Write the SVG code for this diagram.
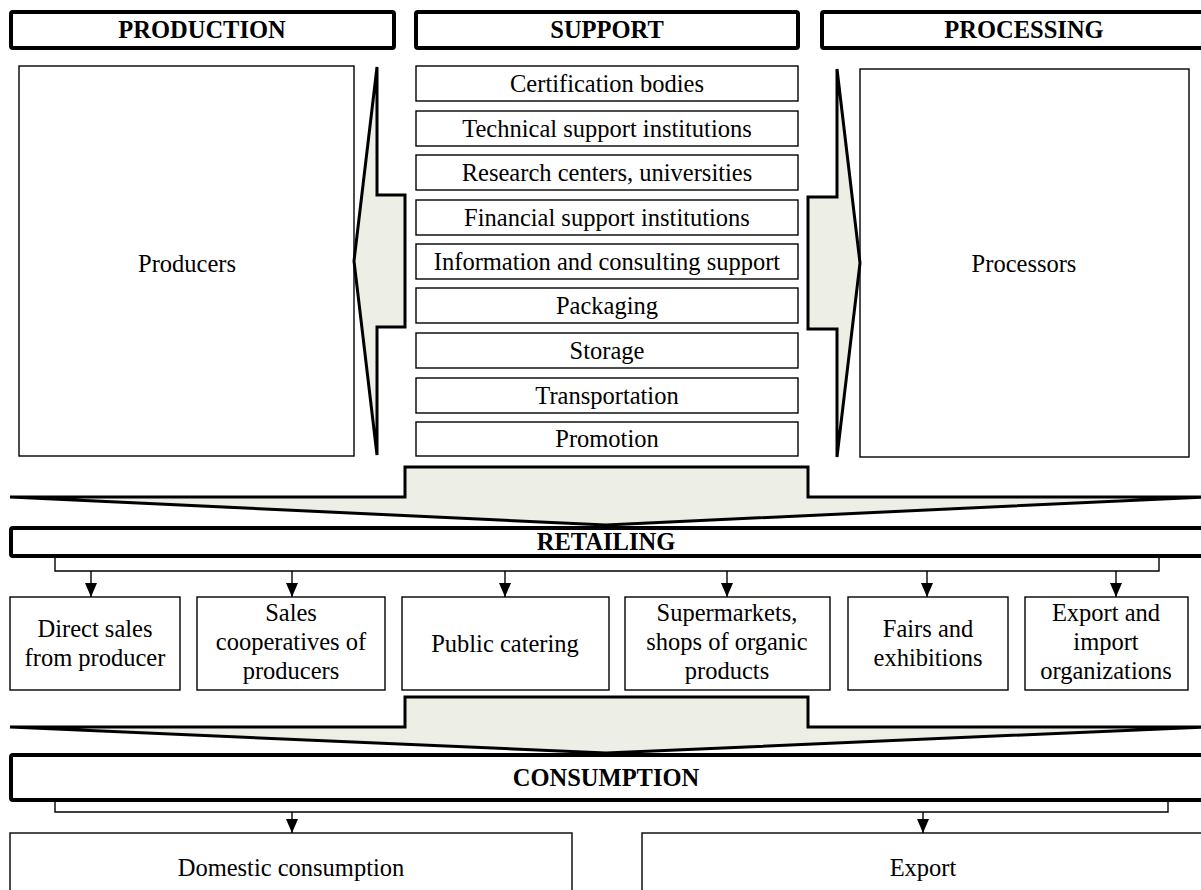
<svg xmlns="http://www.w3.org/2000/svg" width="1201" height="890" viewBox="0 0 1201 890">
<style>
text{font-family:"Liberation Serif","Times New Roman",serif;font-size:24.5px;fill:#000;text-anchor:middle}
.h{font-weight:bold}
.hb{fill:#fff;stroke:#000;stroke-width:4}
.b{fill:#fff;stroke:#000;stroke-width:1.4}
.ar{fill:#EDEEE6;stroke:#000;stroke-width:3;stroke-linejoin:miter}
.c{fill:none;stroke:#000;stroke-width:1.4}
</style>
<defs>
<marker id="ah" markerWidth="14" markerHeight="12" refX="14" refY="6" orient="auto" markerUnits="userSpaceOnUse" viewBox="0 0 14 12">
<path d="M0,0 L14,6 L0,12 Z" fill="#000"/>
</marker>
</defs>
<g id="production"><rect class="hb" x="11" y="12" width="383" height="36" rx="2"/><text class="h" x="202" y="38">PRODUCTION</text></g>
<g id="support"><rect class="hb" x="416" y="12" width="382" height="36" rx="2"/><text class="h" x="607" y="38">SUPPORT</text></g>
<g id="processing"><rect class="hb" x="822" y="12" width="386" height="36" rx="2"/><text class="h" x="1024" y="38">PROCESSING</text></g>
<g id="producers"><rect class="b" x="19" y="66" width="335" height="390"/><text x="187" y="272">Producers</text></g>
<g id="processors"><rect class="b" x="860" y="69" width="329" height="388"/><text x="1024" y="272">Processors</text></g>
<g id="arrow-left"><path class="ar" d="M377,67 L377,195 L405,195 L405,327 L377,327 L377,455 L354,261 Z"/></g>
<g id="arrow-right"><path class="ar" d="M837,69 L837,197 L808,197 L808,329 L837,329 L837,457 L860,263 Z"/></g>
<g id="s1"><rect class="b" x="416" y="66" width="382" height="35"/><text x="607" y="92">Certification bodies</text></g>
<g id="s2"><rect class="b" x="416" y="111" width="382" height="35"/><text x="607" y="137">Technical support institutions</text></g>
<g id="s3"><rect class="b" x="416" y="155" width="382" height="35"/><text x="607" y="181">Research centers, universities</text></g>
<g id="s4"><rect class="b" x="416" y="200" width="382" height="35"/><text x="607" y="226">Financial support institutions</text></g>
<g id="s5"><rect class="b" x="416" y="244" width="382" height="35"/><text x="607" y="270">Information and consulting support</text></g>
<g id="s6"><rect class="b" x="416" y="288" width="382" height="35"/><text x="607" y="314">Packaging</text></g>
<g id="s7"><rect class="b" x="416" y="333" width="382" height="35"/><text x="607" y="359">Storage</text></g>
<g id="s8"><rect class="b" x="416" y="378" width="382" height="35"/><text x="607" y="404">Transportation</text></g>
<g id="s9"><rect class="b" x="416" y="422" width="382" height="34"/><text x="607" y="447">Promotion</text></g>
<g id="arrow-down-1"><path class="ar" d="M10,497 L405,497 L405,467 L808,467 L808,497 L1205,497 L606,525 Z"/></g>
<g id="retailing"><rect class="hb" x="11" y="528" width="1196" height="28" rx="2"/><text class="h" x="606" y="550">RETAILING</text></g>
<g id="r1"><rect class="b" x="10" y="597" width="170" height="93"/><text x="95" y="637">Direct sales</text><text x="95" y="666">from producer</text></g>
<g id="r2"><rect class="b" x="197" y="597" width="188" height="93"/><text x="291" y="621">Sales</text><text x="291" y="650">cooperatives of</text><text x="291" y="679">producers</text></g>
<g id="r3"><rect class="b" x="402" y="597" width="207" height="93"/><text x="505" y="652">Public catering</text></g>
<g id="r4"><rect class="b" x="625" y="597" width="205" height="93"/><text x="727" y="621">Supermarkets,</text><text x="727" y="650">shops of organic</text><text x="727" y="679">products</text></g>
<g id="r5"><rect class="b" x="848" y="597" width="160" height="93"/><text x="928" y="637">Fairs and</text><text x="928" y="666">exhibitions</text></g>
<g id="r6"><rect class="b" x="1025" y="597" width="163" height="93"/><text x="1106" y="621">Export and</text><text x="1106" y="650">import</text><text x="1106" y="679">organizations</text></g>
<g id="arrow-down-2"><path class="ar" d="M10,727 L405,727 L405,697 L808,697 L808,727 L1205,727 L606,753 Z"/></g>
<g id="consumption"><rect class="hb" x="11" y="755" width="1196" height="45" rx="2"/><text class="h" x="606" y="786">CONSUMPTION</text></g>
<g id="domestic"><rect class="b" x="10" y="833" width="562" height="70"/><text x="291" y="876">Domestic consumption</text></g>
<g id="export"><rect class="b" x="642" y="833" width="570" height="70"/><text x="923" y="876">Export</text></g>
<g id="connectors">
<path class="c" d="M55,557 V571 H1159 V557"/>
<line class="c" x1="91" y1="571" x2="91" y2="597" marker-end="url(#ah)"/>
<line class="c" x1="292" y1="571" x2="292" y2="597" marker-end="url(#ah)"/>
<line class="c" x1="505" y1="571" x2="505" y2="597" marker-end="url(#ah)"/>
<line class="c" x1="727" y1="571" x2="727" y2="597" marker-end="url(#ah)"/>
<line class="c" x1="927" y1="571" x2="927" y2="597" marker-end="url(#ah)"/>
<line class="c" x1="1116" y1="571" x2="1116" y2="597" marker-end="url(#ah)"/>
<path class="c" d="M55,801 V812 H1168 V801"/>
<line class="c" x1="292" y1="812" x2="292" y2="833" marker-end="url(#ah)"/>
<line class="c" x1="923" y1="812" x2="923" y2="833" marker-end="url(#ah)"/>
</g>
</svg>
